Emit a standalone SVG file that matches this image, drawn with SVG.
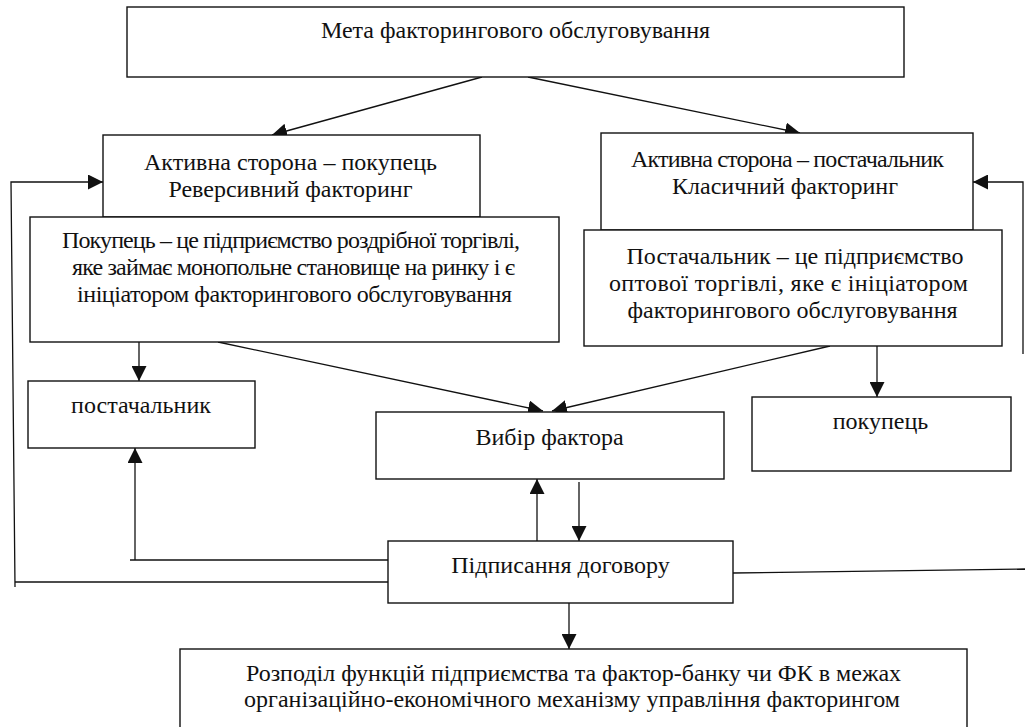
<svg xmlns="http://www.w3.org/2000/svg" width="1025" height="727" viewBox="0 0 1025 727">
<style>
.box{fill:#fff;stroke:#111;stroke-width:1.4}
.t{font-family:'Liberation Serif','Times New Roman',serif;font-size:24px;fill:#111;text-anchor:middle}
.c{fill:none;stroke:#111;stroke-width:1.3}
</style>
<defs>
<marker id="ah" markerUnits="userSpaceOnUse" markerWidth="15" markerHeight="15" viewBox="0 0 15 15" refX="15" refY="7.5" orient="auto">
<path d="M0,0 L15,7.5 L0,15 z" fill="#111"/>
</marker>
</defs>
<rect width="1025" height="727" fill="#fff"/>
<g id="connectors">
<line class="c" x1="482" y1="77" x2="272" y2="135" marker-end="url(#ah)"/>
<line class="c" x1="528" y1="77" x2="800" y2="133" marker-end="url(#ah)"/>
<polyline class="c" points="388,582 15,582"/>
<polyline class="c" points="15,587 11,182 103,182" marker-end="url(#ah)"/>
<polyline class="c" points="1023,354 1023,182 973,182" marker-end="url(#ah)"/>
<line class="c" x1="733" y1="573" x2="1025" y2="569"/>
<line class="c" x1="139" y1="342" x2="139" y2="381" marker-end="url(#ah)"/>
<line class="c" x1="218" y1="342" x2="543" y2="411" marker-end="url(#ah)"/>
<line class="c" x1="830" y1="346" x2="552" y2="411" marker-end="url(#ah)"/>
<line class="c" x1="877" y1="346" x2="877" y2="397" marker-end="url(#ah)"/>
<line class="c" x1="135" y1="560" x2="135" y2="448" marker-end="url(#ah)"/>
<line class="c" x1="130" y1="560" x2="388" y2="560"/>
<line class="c" x1="537" y1="541" x2="537" y2="479" marker-end="url(#ah)"/>
<line class="c" x1="579" y1="482" x2="579" y2="541" marker-end="url(#ah)"/>
<line class="c" x1="569" y1="603" x2="569" y2="649" marker-end="url(#ah)"/>
</g>
<g id="goal">
<rect class="box" x="127" y="7" width="777" height="70"/>
<text class="t" x="515.5" y="38">Мета факторингового обслуговування</text>
</g>
<g id="active-buyer">
<rect class="box" x="103" y="135" width="377" height="82"/>
<text class="t" x="290.5" y="170" textLength="293">Активна сторона – покупець</text>
<text class="t" x="290.5" y="197">Реверсивний факторинг</text>
</g>
<g id="buyer-desc">
<rect class="box" x="30" y="217" width="529" height="125"/>
<text class="t" x="291" y="248" textLength="458">Покупець – це підприємство роздрібної торгівлі,</text>
<text class="t" x="293.5" y="275" textLength="443">яке займає монопольне становище на ринку і є</text>
<text class="t" x="294.5" y="302" textLength="435">ініціатором факторингового обслуговування</text>
</g>
<g id="active-supplier">
<rect class="box" x="601" y="133" width="372" height="97"/>
<text class="t" x="787.5" y="167" textLength="313">Активна сторона – постачальник</text>
<text class="t" x="785" y="194">Класичний факторинг</text>
</g>
<g id="supplier-desc">
<rect class="box" x="584" y="230" width="418" height="116"/>
<text class="t" x="795" y="264">Постачальник – це підприємство</text>
<text class="t" x="788.5" y="291" textLength="359">оптової торгівлі, яке є ініціатором</text>
<text class="t" x="792.5" y="318">факторингового обслуговування</text>
</g>
<g id="supplier">
<rect class="box" x="28" y="381" width="227" height="67"/>
<text class="t" x="141" y="413">постачальник</text>
</g>
<g id="factor-choice">
<rect class="box" x="376" y="412" width="348" height="67"/>
<text class="t" x="549.5" y="445">Вибір фактора</text>
</g>
<g id="buyer">
<rect class="box" x="752" y="397" width="259" height="74"/>
<text class="t" x="880.5" y="429">покупець</text>
</g>
<g id="contract">
<rect class="box" x="388" y="541" width="345" height="62"/>
<text class="t" x="560.5" y="573">Підписання договору</text>
</g>
<g id="functions">
<rect class="box" x="180" y="649" width="787" height="90"/>
<text class="t" x="573.5" y="681">Розподіл функцій підприємства та фактор-банку чи ФК в межах</text>
<text class="t" x="572" y="707">організаційно-економічного механізму управління факторингом</text>
</g>
</svg>
